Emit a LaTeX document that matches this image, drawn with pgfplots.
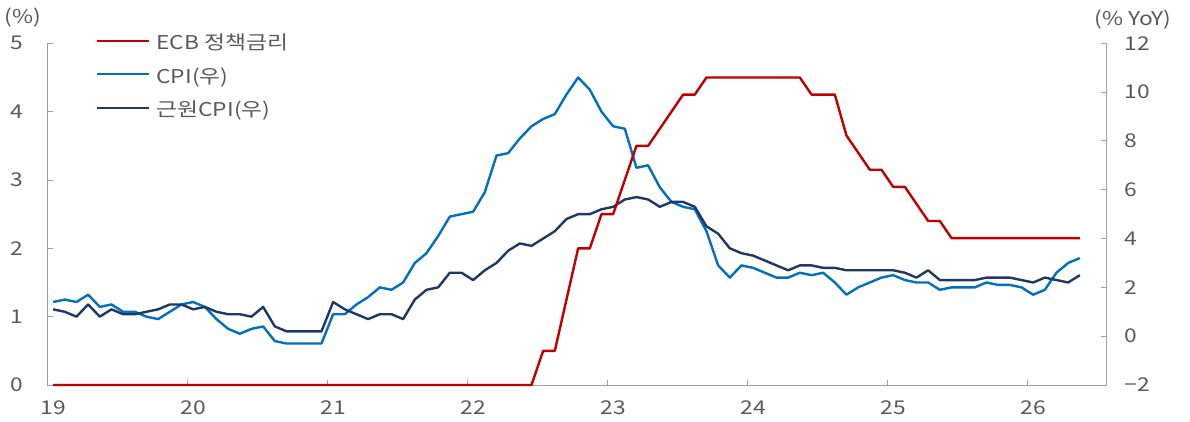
\documentclass[border=0pt]{standalone}
\usepackage{fontspec}
\setmainfont{Noto Sans CJK KR}[FakeStretch=1.2]
\usepackage{pgfplots}
\pgfplotsset{compat=1.18}
\usepackage{pgfplotstable}
\definecolor{ecbred}{HTML}{C00000}
\definecolor{cpiblue}{HTML}{0070C0}
\definecolor{corenavy}{HTML}{1F3864}
\definecolor{axgray}{HTML}{A0A0A0}
\definecolor{txtgray}{HTML}{595959}
\newcommand{\lstrut}{\rule[-4.5pt]{0pt}{24pt}}
\newcommand{\lblfont}{\fontsize{19}{22}\selectfont}

\pgfplotstableread{
i ecb cpi core
0 0 1.4 1.1
1 0 1.5 1.0
2 0 1.4 0.8
3 0 1.7 1.3
4 0 1.2 0.8
5 0 1.3 1.1
6 0 1.0 0.9
7 0 1.0 0.9
8 0 0.8 1.0
9 0 0.7 1.1
10 0 1.0 1.3
11 0 1.3 1.3
12 0 1.4 1.1
13 0 1.2 1.2
14 0 0.7 1.0
15 0 0.3 0.9
16 0 0.1 0.9
17 0 0.3 0.8
18 0 0.4 1.2
19 0 -0.2 0.4
20 0 -0.3 0.2
21 0 -0.3 0.2
22 0 -0.3 0.2
23 0 -0.3 0.2
24 0 0.9 1.4
25 0 0.9 1.1
26 0 1.3 0.9
27 0 1.6 0.7
28 0 2.0 0.9
29 0 1.9 0.9
30 0 2.2 0.7
31 0 3.0 1.5
32 0 3.4 1.9
33 0 4.1 2.0
34 0 4.9 2.6
35 0 5.0 2.6
36 0 5.1 2.3
37 0 5.9 2.7
38 0 7.4 3.0
39 0 7.5 3.5
40 0 8.1 3.8
41 0 8.6 3.7
42 0.5 8.9 4.0
43 0.5 9.1 4.3
44 1.25 9.9 4.8
45 2.0 10.6 5.0
46 2.0 10.1 5.0
47 2.5 9.2 5.2
48 2.5 8.6 5.3
49 3.0 8.5 5.6
50 3.5 6.9 5.7
51 3.5 7.0 5.6
52 3.75 6.1 5.3
53 4.0 5.5 5.5
54 4.25 5.3 5.5
55 4.25 5.2 5.3
56 4.5 4.3 4.5
57 4.5 2.9 4.2
58 4.5 2.4 3.6
59 4.5 2.9 3.4
60 4.5 2.8 3.3
61 4.5 2.6 3.1
62 4.5 2.4 2.9
63 4.5 2.4 2.7
64 4.5 2.6 2.9
65 4.25 2.5 2.9
66 4.25 2.6 2.8
67 4.25 2.2 2.8
68 3.65 1.7 2.7
69 3.40 2.0 2.7
70 3.15 2.2 2.7
71 3.15 2.4 2.7
72 2.90 2.5 2.7
73 2.90 2.3 2.6
74 2.65 2.2 2.4
75 2.40 2.2 2.7
76 2.40 1.9 2.3
77 2.15 2.0 2.3
78 2.15 2.0 2.3
79 2.15 2.0 2.3
80 2.15 2.2 2.4
81 2.15 2.1 2.4
82 2.15 2.1 2.4
83 2.15 2.0 2.3
84 2.15 1.7 2.2
85 2.15 1.9 2.4
86 2.15 2.6 2.3
87 2.15 3.0 2.2
88 2.15 3.2 2.5
}\datatable

\begin{document}
\begin{tikzpicture}
\useasboundingbox (0pt,0pt) rectangle (1190pt,421pt);
\pgfplotsset{
  common/.style={
    at={(47.3pt,36pt)}, anchor=south west,
    scale only axis, width=1059.4pt, height=341.7pt,
    xmin=-0.5, xmax=90.3,
    tick align=inside, major tick length=5.5pt,
    every tick/.style={axgray, line width=0.9pt},
    axis line style={axgray, line width=0.9pt, -},
    tick label style={font=\lblfont, text=txtgray},
    clip=false,
  }
}
% right axis (CPI) first, so the policy rate line lies on top
\begin{axis}[common,
  axis x line=none, axis y line*=right,
  ymin=-2, ymax=12, ytick={-2,0,2,4,6,8,10,12},
  yticklabels={−2,0,2,4,6,8,10,12},
  yticklabel style={anchor=west, inner sep=0pt, xshift=17.5pt},
  legend style={at={(0,1)}, anchor=north west, xshift=48.4pt, yshift=13pt,
    draw=none, fill=none, inner sep=0pt, outer sep=0pt,
    row sep=12.5pt, column sep=6.3pt, font=\lblfont,
    nodes={inner sep=0pt, text=txtgray}},
  legend cell align=left,
  legend image code/.code={\draw[#1] (0pt,0pt) -- (52pt,0pt);},
]
\addlegendimage{ecbred, line width=2.4pt}
\addlegendentry{\lstrut ECB 정책금리}
\addplot[cpiblue, line width=2.4pt, line join=round] table[x=i,y=cpi]{\datatable};
\addlegendentry{\lstrut CPI(우)}
\addplot[corenavy, line width=2.4pt, line join=round] table[x=i,y=core]{\datatable};
\addlegendentry{\lstrut 근원CPI(우)}
\node[font=\lblfont, text=txtgray, inner sep=0pt] at (rel axis cs:1,1) [xshift=26.3pt, yshift=23.3pt] {(\% YoY)};
\end{axis}
\begin{axis}[common,
  axis x line*=bottom, axis y line*=left,
  xtick={-0.5,11.5,23.5,35.5,47.5,59.5,71.5,83.5},
  xticklabels={19,20,21,22,23,24,25,26},
  xticklabel style={anchor=north, inner sep=0pt, xshift=5.83pt, yshift=-15.5pt},
  ymin=0, ymax=5, ytick={0,1,2,3,4,5}, yticklabels={0,1,2,3,4,5},
  yticklabel style={anchor=east, inner sep=0pt, xshift=-24pt},
]
\addplot[ecbred, line width=2.4pt, line join=round] table[x=i,y=ecb]{\datatable};
\node[font=\lblfont, text=txtgray, inner sep=0pt] at (rel axis cs:0,1) [xshift=-24.3pt, yshift=25.3pt] {(\%)};
\end{axis}
\end{tikzpicture}
\end{document}
